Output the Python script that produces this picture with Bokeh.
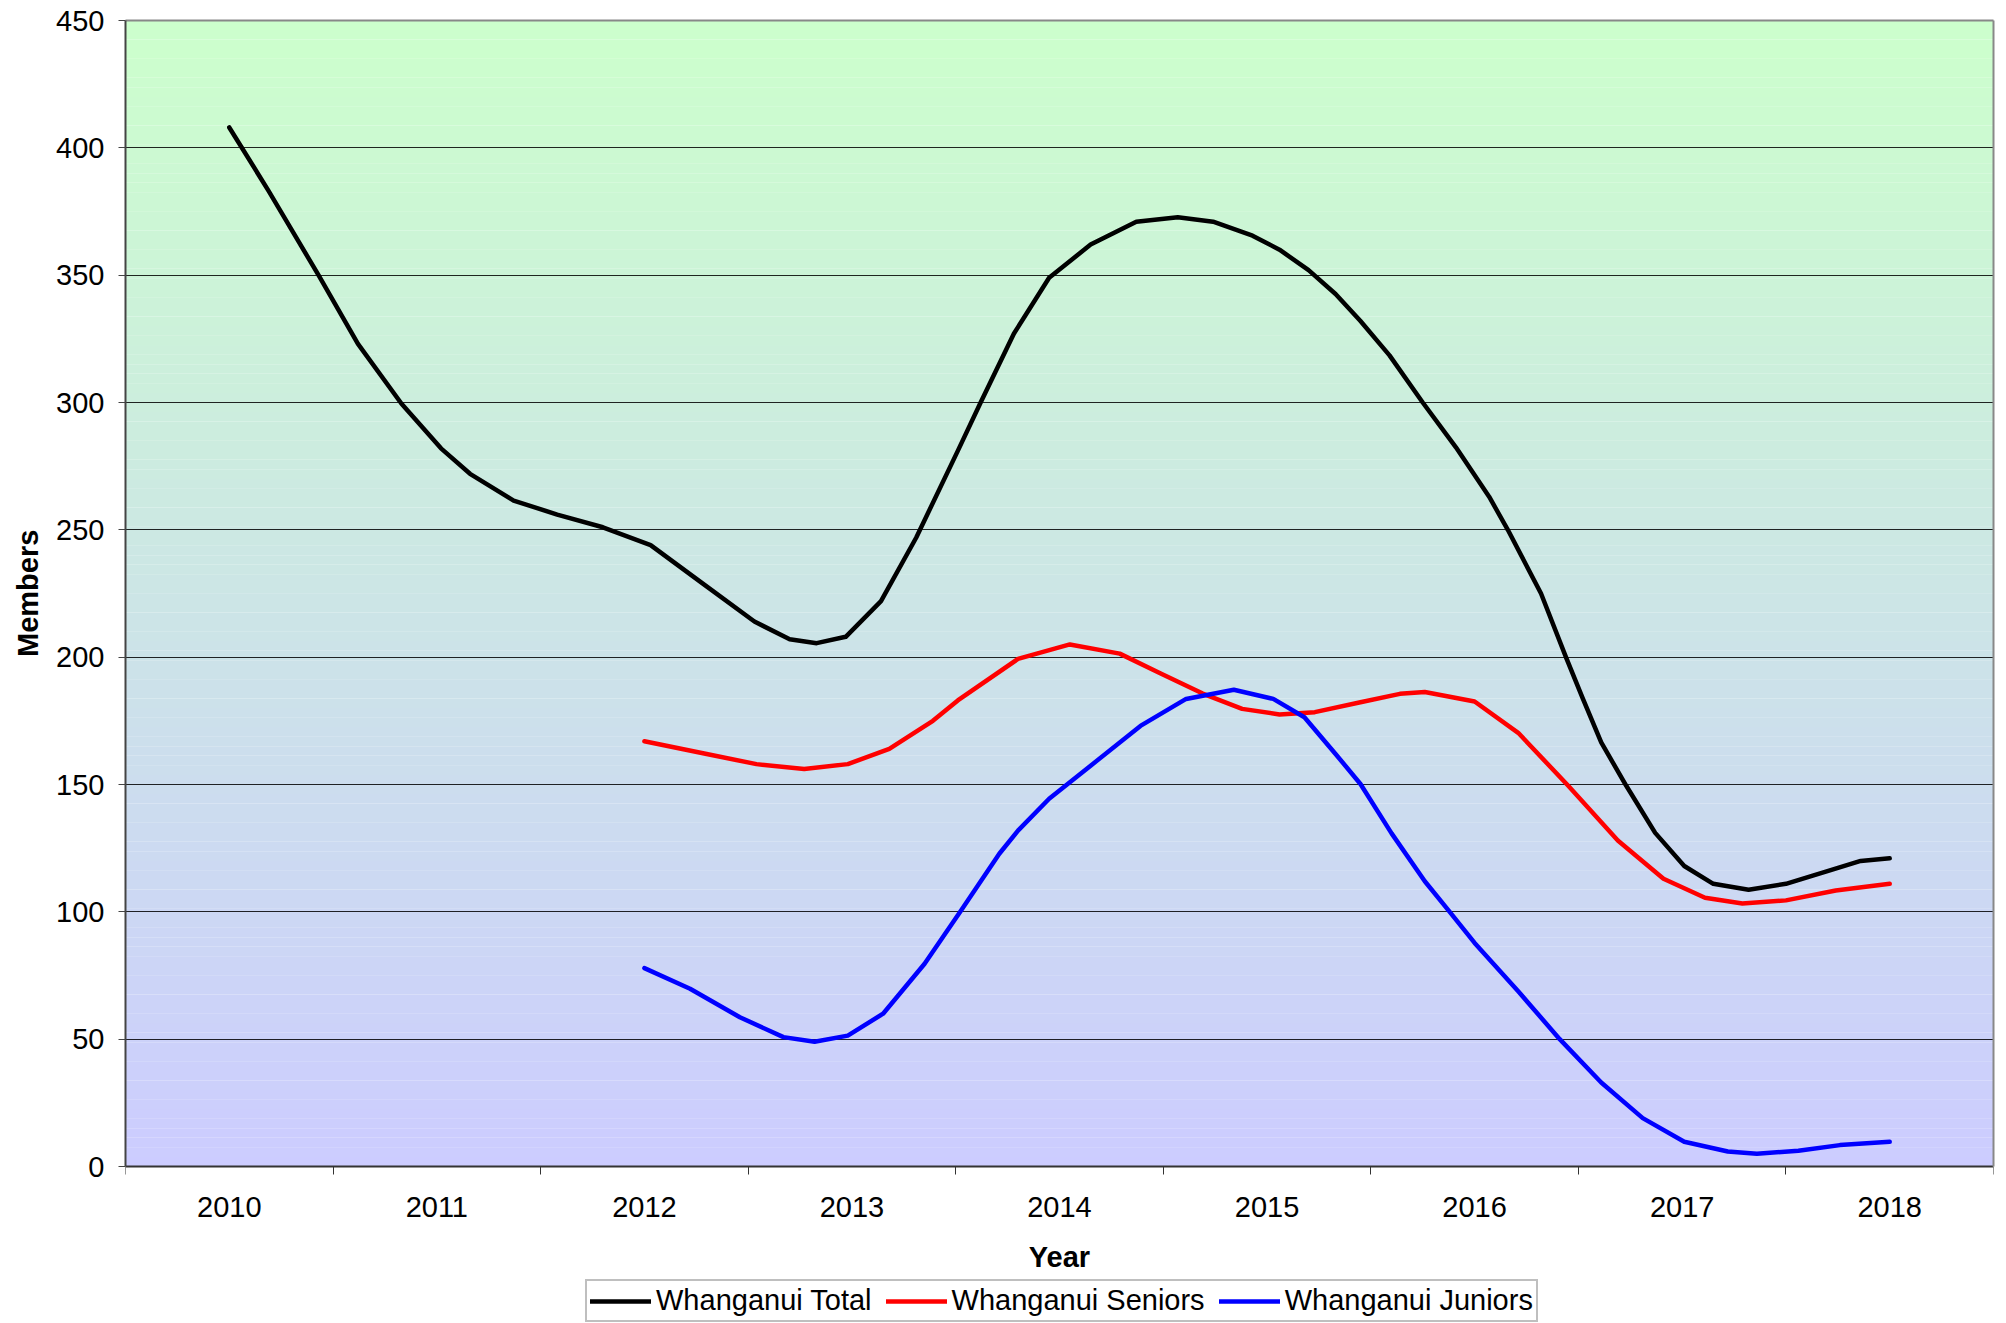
import numpy as np
from bokeh.plotting import figure
from bokeh.models import FixedTicker, Legend, LegendItem, Range1d, LinearAxis, Title
from bokeh.embed import file_html
from bokeh.resources import INLINE

# ---- data ----
categories = ["2010", "2011", "2012", "2013", "2014", "2015", "2016", "2017", "2018"]
category_years = [2010, 2011, 2012, 2013, 2014, 2015, 2016, 2017, 2018]
y_ticks = [0, 50, 100, 150, 200, 250, 300, 350, 400, 450]

total_x = [2010.00, 2010.19, 2010.43, 2010.62, 2010.83, 2011.02, 2011.16, 2011.37, 2011.58,
           2011.80, 2012.03, 2012.28, 2012.53, 2012.70, 2012.83, 2012.97, 2013.14, 2013.31,
           2013.51, 2013.62, 2013.78, 2013.95, 2014.15, 2014.37, 2014.57, 2014.74, 2014.93,
           2015.06, 2015.20, 2015.33, 2015.45, 2015.59, 2015.75, 2015.91, 2016.07, 2016.16,
           2016.32, 2016.44, 2016.52, 2016.61, 2016.73, 2016.87, 2017.01, 2017.15, 2017.32,
           2017.50, 2017.70, 2017.86, 2018.00]
total_y = [408, 383, 350, 323, 299.5, 282, 272, 261.5, 256,
           251, 244, 229, 214, 207, 205.5, 208, 222, 247,
           281, 300, 327, 349, 362, 371, 372.7, 371, 365.5,
           360, 352, 342.6, 332, 318.5, 300, 282.4, 263, 250,
           225, 200, 184, 166.5, 149.6, 131, 118, 111, 108.7,
           111, 116, 120, 121]

seniors_x = [2012.00, 2012.30, 2012.54, 2012.77, 2012.98, 2013.18, 2013.39, 2013.51, 2013.80,
             2014.05, 2014.29, 2014.49, 2014.69, 2014.88, 2015.06, 2015.23, 2015.45, 2015.64,
             2015.76, 2016.00, 2016.21, 2016.45, 2016.69, 2016.91, 2017.11, 2017.29, 2017.50,
             2017.74, 2018.00]
seniors_y = [167, 162, 158, 156.1, 158, 164, 175, 183, 199.3,
             205, 201.4, 193.5, 185.7, 179.7, 177.5, 178.4, 182.3, 185.6,
             186.3, 182.6, 170.3, 149.6, 128, 113, 105.5, 103.3, 104.5,
             108.4, 111]

juniors_x = [2012.00, 2012.22, 2012.46, 2012.67, 2012.82, 2012.98, 2013.15, 2013.35, 2013.52,
             2013.71, 2013.80, 2013.95, 2014.15, 2014.39, 2014.61, 2014.84, 2015.03, 2015.18,
             2015.33, 2015.45, 2015.60, 2015.76, 2015.88, 2016.00, 2016.21, 2016.41, 2016.61,
             2016.81, 2017.01, 2017.22, 2017.36, 2017.56, 2017.76, 2018.00]
juniors_y = [77.9, 69.8, 58.6, 50.8, 49, 51.4, 60, 79.6, 99.8,
             122.8, 131.9, 144.4, 157.4, 173, 183.6, 187.2, 183.6, 176.4,
             162, 150.2, 130.8, 112, 100, 87.8, 68.8, 50, 33,
             19, 9.7, 5.9, 5, 6.2, 8.4, 9.7]

series_names = ["Whanganui Total", "Whanganui Seniors", "Whanganui Juniors"]
series_colors = ["#000000", "#FF0000", "#0000FF"]

FONT = "Liberation Sans"
FS = "29px"

# ---- layout (pixels) ----
PLOT_W, PLOT_H = 1868, 1146      # plotting area
BELOW = 156                      # room under the plotting area for tick labels, title, legend
PX_PER_UNIT = PLOT_H / (y_ticks[-1] - y_ticks[0])
Y_TITLE_LEN = 127                # approx. length of the bold y title in px

x_start, x_end = category_years[0] - 0.5, category_years[-1] + 0.5
y_start, y_end = y_ticks[0], y_ticks[-1]
y_view_start = y_start - BELOW / PX_PER_UNIT

p = figure(frame_width=PLOT_W, frame_height=PLOT_H + BELOW,
           x_range=Range1d(x_start, x_end), y_range=Range1d(y_view_start, y_end),
           output_backend="svg", toolbar_location=None,
           min_border_left=125, min_border_right=7, min_border_top=20, min_border_bottom=0)

p.background_fill_color = "white"
p.border_fill_color = "white"
p.outline_line_color = None

# gradient background (green at top -> lavender at bottom)
n = 120
edges = np.linspace(y_start, y_end, n + 1)
top_rgb = np.array([204, 255, 204])
bot_rgb = np.array([204, 204, 255])
cols = []
for i in range(n):
    t = (i + 0.5) / n
    c = bot_rgb + (top_rgb - bot_rgb) * t
    cols.append("#%02x%02x%02x" % tuple(int(round(v)) for v in c))
p.quad(left=x_start, right=x_end, bottom=edges[:-1], top=edges[1:] + 0.05,
       fill_color=cols, line_color=None, level="image")

# grid
p.xgrid.visible = False
p.ygrid.ticker = FixedTicker(ticks=y_ticks[1:])
p.ygrid.grid_line_color = "#000000"
p.ygrid.grid_line_width = 1
p.ygrid.grid_line_alpha = 0.85

# y axis (left)
p.yaxis.ticker = FixedTicker(ticks=y_ticks)
p.yaxis.bounds = (y_start, y_end)
p.yaxis.major_tick_out = 7
p.yaxis.major_tick_in = 0
p.yaxis.minor_tick_out = 0
p.yaxis.axis_line_color = "#444444"
p.yaxis.axis_line_width = 2
p.yaxis.major_tick_line_color = "#444444"
p.yaxis.major_label_standoff = 14

# y axis title, centred on the 0..450 part of the plot
y_title = Title(text="Members", align="left",
                offset=BELOW + PLOT_H / 2 - Y_TITLE_LEN / 2, standoff=19,
                text_font=FONT, text_font_size=FS, text_font_style="bold", text_color="#000000")
p.add_layout(y_title, "left")

# x axis pinned at y = 0
p.xaxis.fixed_location = y_start
p.xaxis.ticker = FixedTicker(ticks=category_years,
                             minor_ticks=[y - 0.5 for y in category_years] + [category_years[-1] + 0.5])
p.xaxis.major_label_overrides = {y: c for y, c in zip(category_years, categories)}
p.xaxis.major_tick_out = 0
p.xaxis.major_tick_in = 0
p.xaxis.minor_tick_out = 8
p.xaxis.minor_tick_in = 0
p.xaxis.minor_tick_line_color = "#333333"
p.xaxis.axis_line_color = "#333333"
p.xaxis.axis_line_width = 2
p.xaxis.major_label_standoff = 22
p.xaxis.axis_label = "Year"
p.xaxis.axis_label_standoff = 21

for ax in (p.xaxis[0], p.yaxis[0]):
    ax.major_label_text_font = FONT
    ax.major_label_text_font_size = FS
    ax.major_label_text_color = "#000000"
    ax.axis_label_text_font = FONT
    ax.axis_label_text_font_size = FS
    ax.axis_label_text_font_style = "bold"
    ax.axis_label_text_color = "#000000"

# gray border on top and right of the plotting area
right_border = LinearAxis(ticker=FixedTicker(ticks=[]), bounds=(y_start, y_end),
                          axis_line_color="#888888", axis_line_width=2,
                          major_tick_out=0, major_tick_in=0, minor_tick_out=0, minor_tick_in=0,
                          major_label_standoff=0)
p.add_layout(right_border, "right")
top_border = LinearAxis(ticker=FixedTicker(ticks=[]),
                        axis_line_color="#888888", axis_line_width=2,
                        major_tick_out=0, major_tick_in=0, minor_tick_out=0, minor_tick_in=0,
                        major_label_standoff=0)
p.add_layout(top_border, "above")

# series
LW = 4.5
r_total = p.line(total_x, total_y, line_color=series_colors[0], line_width=LW, line_join="round", line_cap="round")
r_sen = p.line(seniors_x, seniors_y, line_color=series_colors[1], line_width=LW, line_join="round", line_cap="round")
r_jun = p.line(juniors_x, juniors_y, line_color=series_colors[2], line_width=LW, line_join="round", line_cap="round")

legend = Legend(items=[LegendItem(label=series_names[0], renderers=[r_total]),
                       LegendItem(label=series_names[1], renderers=[r_sen]),
                       LegendItem(label=series_names[2], renderers=[r_jun])],
                orientation="horizontal", location=(460, 0))
legend.label_text_font = FONT
legend.label_text_font_size = FS
legend.label_text_color = "#000000"
legend.label_height = 32
legend.glyph_width = 61
legend.glyph_height = 32
legend.label_standoff = 5
legend.spacing = 14
legend.padding = 3
legend.margin = 0
legend.border_line_color = "#808080"
legend.border_line_width = 2
legend.background_fill_color = "white"
legend.background_fill_alpha = 1.0
p.add_layout(legend, "center")

open("out.html", "w").write(file_html(p, INLINE))
